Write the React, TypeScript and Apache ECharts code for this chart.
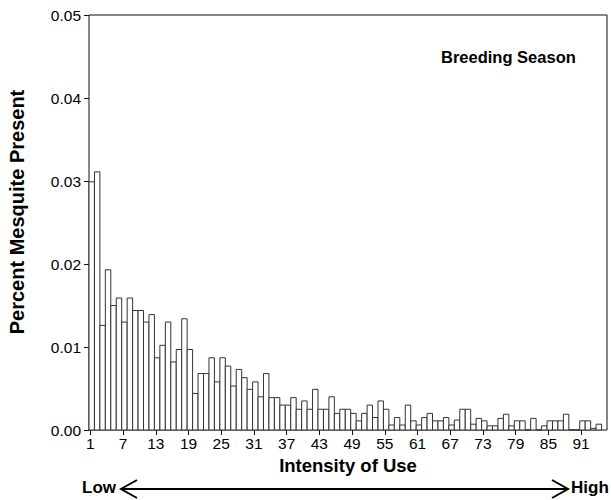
import React, { useEffect, useRef } from "react";
import * as echarts from "echarts";

// Percent mesquite present per intensity-of-use bin (bins 1..94)
const usage: number[] = [
  0.0299, 0.0311, 0.0126, 0.0193, 0.015, 0.0159, 0.013, 0.0159, 0.0144, 0.0144,
  0.013, 0.0139, 0.0087, 0.0102, 0.013, 0.0082, 0.0097, 0.0134, 0.0097, 0.0044,
  0.0068, 0.0068, 0.0087, 0.0058, 0.0087, 0.0077, 0.0053, 0.0073, 0.0063, 0.0049,
  0.0058, 0.004, 0.0068, 0.0039, 0.0039, 0.003, 0.003, 0.0039, 0.0025, 0.0035,
  0.0025, 0.0049, 0.0025, 0.0025, 0.004, 0.002, 0.0025, 0.0025, 0.002, 0.0011,
  0.002, 0.003, 0.0015, 0.0035, 0.0025, 0.0006, 0.0015, 0.0006, 0.003, 0.0011,
  0.0006, 0.0015, 0.002, 0.0011, 0.0011, 0.0015, 0.0006, 0.0012, 0.0025, 0.0025,
  0.0007, 0.0014, 0.0011, 0.0005, 0.0005, 0.0014, 0.0019, 0.0005, 0.0011, 0.0011,
  0, 0.0014, 0, 0.0005, 0.0011, 0.0011, 0.0011, 0.0019, 0, 0,
  0.0011, 0.0011, 0.0002, 0.0007,
];
const bins: number[] = usage.map((_, i) => i + 1);
const xTickLabels: number[] = [1, 7, 13, 19, 25, 31, 37, 43, 49, 55, 61, 67, 73, 79, 85, 91];
const yTicks: number[] = [0, 0.01, 0.02, 0.03, 0.04, 0.05];

const FONT = "'Liberation Sans', Arial, sans-serif";
const TICK_SHIFT = 0.25;

export default function App() {
  const ref = useRef<HTMLDivElement>(null);
  useEffect(() => {
    if (!ref.current) return;
    const chart = echarts.init(ref.current, undefined, { renderer: "svg" });
    const data = bins.map((b, i) => [b - 1, usage[i]]);
    const tickPos = xTickLabels.map((v) => v - 1 + TICK_SHIFT);
    chart.setOption({
      animation: false,
      backgroundColor: "#fff",
      textStyle: { fontFamily: FONT },
      grid: {
        left: 89,
        right: 4,
        top: 15,
        bottom: 70,
        show: true,
        borderColor: "#111",
        borderWidth: 1,
        backgroundColor: "transparent",
      },
      xAxis: {
        type: "value",
        min: 0,
        max: 95,
        name: "Intensity of Use",
        nameLocation: "middle",
        nameGap: 25,
        nameTextStyle: { fontFamily: FONT, fontSize: 18.5, fontWeight: "bold", color: "#000" },
        axisLine: { show: false },
        axisTick: {
          show: true,
          length: 5,
          lineStyle: { color: "#111" },
          customValues: tickPos,
        },
        axisLabel: {
          fontFamily: FONT,
          fontSize: 15.5,
          color: "#000",
          margin: 5,
          customValues: tickPos,
          formatter: (v: number) => String(Math.round(v - TICK_SHIFT) + 1),
        },
        splitLine: { show: false },
      },
      yAxis: {
        type: "value",
        min: 0,
        max: 0.05,
        interval: 0.01,
        axisLine: { show: false },
        axisTick: { show: true, length: 5, lineStyle: { color: "#111" } },
        axisLabel: {
          fontFamily: FONT,
          fontSize: 15.5,
          color: "#000",
          margin: 8,
          customValues: yTicks,
          formatter: (v: number) => v.toFixed(2),
        },
        splitLine: { show: false },
      },
      series: [
        {
          type: "custom",
          data,
          encode: { x: 0, y: 1 },
          renderItem: (params: any, api: any) => {
            const u = api.value(0);
            const v = api.value(1);
            const p0 = api.coord([u, v]);
            const p1 = api.coord([u + 1, 0]);
            return {
              type: "rect",
              shape: { x: p0[0], y: p0[1], width: p1[0] - p0[0], height: p1[1] - p0[1] },
              style: { fill: "#fff", stroke: "#333", lineWidth: 1 },
            };
          },
        },
      ],
      graphic: [
        {
          type: "text",
          x: 17,
          y: 212,
          rotation: Math.PI / 2,
          style: {
            text: "Percent Mesquite Present",
            font: `bold 20px ${FONT}`,
            fill: "#000",
            align: "center",
            verticalAlign: "middle",
          },
        },
        {
          type: "text",
          left: 441,
          top: 48,
          style: { text: "Breeding Season", font: `bold 16.5px ${FONT}`, fill: "#000" },
        },
        {
          type: "text",
          left: 82,
          top: 479,
          style: { text: "Low", font: `bold 17px ${FONT}`, fill: "#000" },
        },
        {
          type: "text",
          left: 571,
          top: 479,
          style: { text: "High", font: `bold 17px ${FONT}`, fill: "#000" },
        },
        {
          type: "line",
          shape: { x1: 121, y1: 489, x2: 568, y2: 489 },
          style: { stroke: "#000", lineWidth: 2 },
        },
        {
          type: "polyline",
          shape: { points: [[137, 480], [121, 489], [137, 498]] },
          style: { stroke: "#000", lineWidth: 2, fill: "none" },
        },
        {
          type: "polyline",
          shape: { points: [[552, 480], [568, 489], [552, 498]] },
          style: { stroke: "#000", lineWidth: 2, fill: "none" },
        },
      ],
    });
    return () => chart.dispose();
  }, []);
  return (
    <div
      ref={ref}
      style={{ position: "fixed", left: 0, top: 0, width: 611, height: 500 }}
    />
  );
}
